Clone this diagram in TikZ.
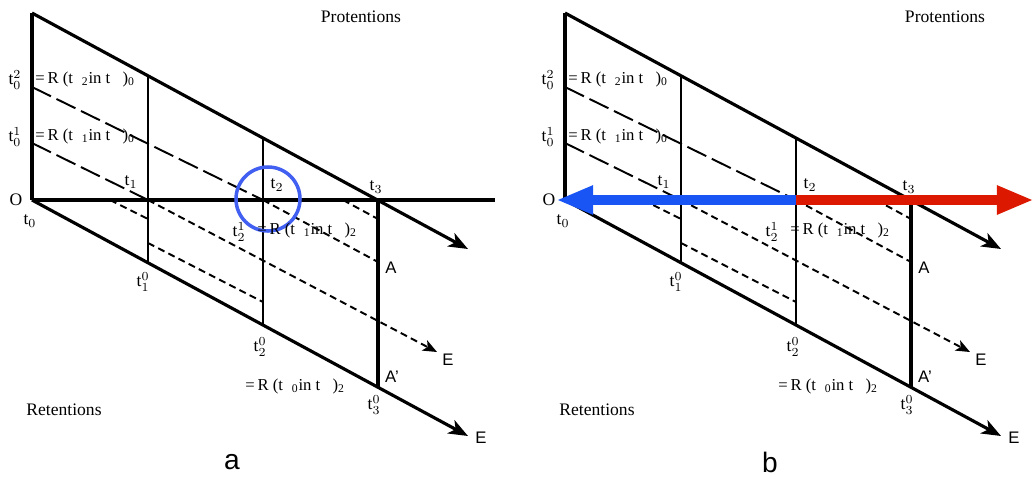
\documentclass[tikz,border=0pt]{standalone}
\usepackage{fontspec}
\setmainfont{Liberation Serif}
\setsansfont{Liberation Sans}
\usetikzlibrary{arrows.meta}
\definecolor{focusblue}{RGB}{65,95,240}
\definecolor{pastblue}{RGB}{25,85,245}
\definecolor{futurered}{RGB}{220,25,0}

\begin{document}
\begin{tikzpicture}[
  x=0.2mm, y=-0.2mm,
  frame/.style={line width=1.8pt},
  cut/.style={line width=1.1pt},
  retain/.style={line width=1.1pt, dash pattern=on 12pt off 3.5pt},
  retainlow/.style={line width=1.1pt, dash pattern=on 4pt off 2.5pt},
  arr/.style={-{Stealth[length=11pt, width=8.5pt, inset=3pt]}},
  darr/.style={-{Stealth[length=8pt, width=6.5pt, inset=2pt]}},
  tlabel/.style={inner sep=0pt, font=\fontsize{10}{12}\selectfont},
  rlabel/.style={inner sep=0pt, anchor=west, font=\fontsize{9.5}{11}\selectfont},
  point/.style={inner sep=0pt, font=\sffamily\fontsize{9.5}{11}\selectfont},
  caption/.style={inner sep=0pt, font=\sffamily\fontsize{16}{18}\selectfont},
  focus/.style={draw=focusblue, circle, line width=2pt, minimum size=12.8mm, inner sep=0pt},
  pastflow/.style={line width=6.2pt, draw=pastblue, -{Triangle[length=20pt, width=17pt, line width=0pt, fill=pastblue]}},
  futureflow/.style={line width=6.2pt, draw=futurered, -{Triangle[length=20pt, width=17pt, line width=0pt, fill=futurered]}},
]
\useasboundingbox (0,0) rectangle (1033,478);

%%%%%%%%%%%%%%%% Panel a %%%%%%%%%%%%%%%%

% Now-line points
\coordinate (aO)   at (32,200);
\coordinate (aT1)  at (148,200);
\coordinate (aT2)  at (263,200);
\coordinate (aT3)  at (378,200);
\coordinate (aNow) at (495,200);

% Protention edge
\coordinate (aTop) at (32,13);
\coordinate (aU1)  at (148,76);
\coordinate (aU2)  at (263,138);
\coordinate (aP)   at (468,249);

% Retention edge
\coordinate (aB1) at (148,263);
\coordinate (aB2) at (263,325);
\coordinate (aB3) at (378,387);
\coordinate (aE)  at (468,436);

% Retained points
\coordinate (aR2)  at (32,87);
\coordinate (aR1)  at (32,143);
\coordinate (aA)   at (378,262);
\coordinate (aEd)  at (437,352);
\coordinate (aS1)  at (110,200);
\coordinate (aS1e) at (148,219);
\coordinate (aS2)  at (148,243);
\coordinate (aS2e) at (263,302);
\coordinate (aS3)  at (343,200);
\coordinate (aS3e) at (378,219);

% Frame
\draw[frame] (aTop) -- (aO);
\draw[frame] (aO) -- (aNow);
\draw[frame, arr] (aTop) -- (aP);
\draw[frame, arr] (aO) -- (aE);
\draw[cut] (aU1) -- (aB1);
\draw[cut] (aU2) -- (aB2);
\draw[frame] (aT3) -- (aB3);

% Retention lines
\draw[retain] (aR2) -- (aT2);
\draw[retain] (aR1) -- (aT1);
\draw[retainlow] (aT2) -- (aA);
\draw[retainlow, darr] (aT1) -- (aEd);
\draw[retainlow] (aS1) -- (aS1e);
\draw[retainlow] (aS2) -- (aS2e);
\draw[retainlow] (aS3) -- (aS3e);

% Focus on t2
\node[focus] (aFocus) at (268,199) {};

% Labels
\node[tlabel] (aProt) at (361,17) {Protentions};
\node[tlabel] (aRet) at (64,410) {Retentions};
\node[tlabel] (aOlab) at (16,200) {O};
\node[tlabel] (at0) at (30,221) {$\mathrm{t}_0$};
\node[tlabel] (at02) at (15,80) {$\mathrm{t}^2_0$};
\node[rlabel] (aR2txt) at (35,79) {=\,R (t\hspace{5pt}\textsubscript{2}in t\hspace{7pt})\textsubscript{0}};
\node[tlabel] (at01) at (15,137) {$\mathrm{t}^1_0$};
\node[rlabel] (aR1txt) at (35,136) {=\,R (t\hspace{5pt}\textsubscript{1}in t\hspace{7pt})\textsubscript{0}};
\node[tlabel] (at1) at (131,182) {$\mathrm{t}_1$};
\node[tlabel] (at2) at (277,185) {$\mathrm{t}_2$};
\node[tlabel] (at3) at (376,187) {$\mathrm{t}_3$};
\node[tlabel] (at21) at (239,232) {$\mathrm{t}^1_2$};
\node[rlabel] (aR3txt) at (257,230) {=\,R (t\hspace{5pt}\textsubscript{1}in t\hspace{7pt})\textsubscript{2}};
\node[tlabel] (at10) at (143,282) {$\mathrm{t}^0_1$};
\node[tlabel] (at20) at (260,347) {$\mathrm{t}^0_2$};
\node[tlabel] (at30) at (374,405) {$\mathrm{t}^0_3$};
\node[rlabel] (aR4txt) at (245,386) {=\,R (t\hspace{5pt}\textsubscript{0}in t\hspace{7pt})\textsubscript{2}};
\node[point] (aAlab) at (391,268) {A};
\node[point] (aA2lab) at (392,377) {A'};
\node[point] (aElab) at (448,360) {E};
\node[point] (aE2lab) at (481,438) {E};
\node[caption] (aCap) at (232,462) {a};

%%%%%%%%%%%%%%%% Panel b %%%%%%%%%%%%%%%%
\begin{scope}[xshift=106.6mm]

% Now-line points
\coordinate (bO)    at (32,200);
\coordinate (bT1)   at (148,200);
\coordinate (bT2)   at (263,200);
\coordinate (bT3)   at (378,200);
\coordinate (bPast) at (25,200);
\coordinate (bFut)  at (499,200);

% Protention edge
\coordinate (bTop) at (32,13);
\coordinate (bU1)  at (148,76);
\coordinate (bU2)  at (263,138);
\coordinate (bP)   at (468,249);

% Retention edge
\coordinate (bB1) at (148,263);
\coordinate (bB2) at (263,325);
\coordinate (bB3) at (378,387);
\coordinate (bE)  at (468,436);

% Retained points
\coordinate (bR2)  at (32,87);
\coordinate (bR1)  at (32,143);
\coordinate (bA)   at (378,262);
\coordinate (bEd)  at (437,352);
\coordinate (bS1)  at (110,200);
\coordinate (bS1e) at (148,219);
\coordinate (bS2)  at (148,243);
\coordinate (bS2e) at (263,302);
\coordinate (bS3)  at (343,200);
\coordinate (bS3e) at (378,219);

% Frame
\draw[frame] (bTop) -- (bO);
\draw[frame, arr] (bTop) -- (bP);
\draw[frame, arr] (bO) -- (bE);
\draw[cut] (bU1) -- (bB1);
\draw[cut] (bU2) -- (bB2);
\draw[frame] (bT3) -- (bB3);

% Retention lines
\draw[retain] (bR2) -- (bT2);
\draw[retain] (bR1) -- (bT1);
\draw[retainlow] (bT2) -- (bA);
\draw[retainlow, darr] (bT1) -- (bEd);
\draw[retainlow] (bS1) -- (bS1e);
\draw[retainlow] (bS2) -- (bS2e);
\draw[retainlow] (bS3) -- (bS3e);

% Past and future from t2
\draw[pastflow] (bT2) -- (bPast);
\draw[futureflow] (bT2) -- (bFut);

% Labels
\node[tlabel] (bProt) at (412,17) {Protentions};
\node[tlabel] (bRet) at (64,410) {Retentions};
\node[tlabel] (bOlab) at (16,200) {O};
\node[tlabel] (bt0) at (30,221) {$\mathrm{t}_0$};
\node[tlabel] (bt02) at (15,80) {$\mathrm{t}^2_0$};
\node[rlabel] (bR2txt) at (35,79) {=\,R (t\hspace{5pt}\textsubscript{2}in t\hspace{7pt})\textsubscript{0}};
\node[tlabel] (bt01) at (15,137) {$\mathrm{t}^1_0$};
\node[rlabel] (bR1txt) at (35,136) {=\,R (t\hspace{5pt}\textsubscript{1}in t\hspace{7pt})\textsubscript{0}};
\node[tlabel] (bt1) at (131,182) {$\mathrm{t}_1$};
\node[tlabel] (bt2) at (277,185) {$\mathrm{t}_2$};
\node[tlabel] (bt3) at (376,187) {$\mathrm{t}_3$};
\node[tlabel] (bt21) at (239,232) {$\mathrm{t}^1_2$};
\node[rlabel] (bR3txt) at (257,230) {=\,R (t\hspace{5pt}\textsubscript{1}in t\hspace{7pt})\textsubscript{2}};
\node[tlabel] (bt10) at (143,282) {$\mathrm{t}^0_1$};
\node[tlabel] (bt20) at (260,347) {$\mathrm{t}^0_2$};
\node[tlabel] (bt30) at (374,405) {$\mathrm{t}^0_3$};
\node[rlabel] (bR4txt) at (245,386) {=\,R (t\hspace{5pt}\textsubscript{0}in t\hspace{7pt})\textsubscript{2}};
\node[point] (bAlab) at (391,268) {A};
\node[point] (bA2lab) at (392,377) {A'};
\node[point] (bElab) at (448,360) {E};
\node[point] (bE2lab) at (481,438) {E};
\node[caption] (bCap) at (237,462) {b};

\end{scope}

\end{tikzpicture}
\end{document}
